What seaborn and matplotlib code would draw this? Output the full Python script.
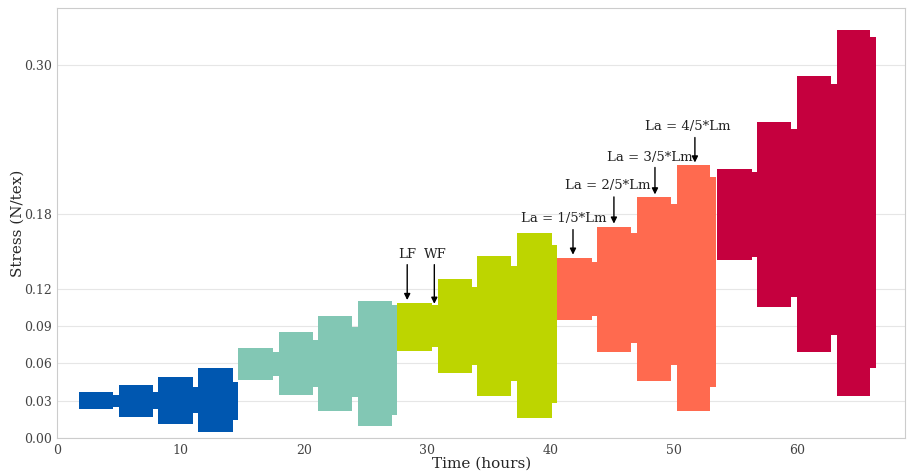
import matplotlib
matplotlib.use("Agg")
import matplotlib.pyplot as plt
from matplotlib.ticker import FormatStrFormatter
import seaborn as sns

# Bloques de carga: bordes en tiempo (h) y tension min/max (N/tex)
blue_edges = [1.8, 4.54, 5.03, 7.79, 8.19, 11.03, 11.44, 14.27, 14.68]
blue_low = [0.0234, 0.025, 0.0169, 0.023, 0.0113, 0.020, 0.0048, 0.0145]
blue_high = [0.0371, 0.0347, 0.0427, 0.037, 0.049, 0.041, 0.0564, 0.045]

teal_edges = [14.68, 17.52, 18.0, 20.76, 21.17, 23.93, 24.41, 27.17, 27.57]
teal_low = [0.0467, 0.050, 0.0347, 0.041, 0.0218, 0.033, 0.0097, 0.0185]
teal_high = [0.0725, 0.0693, 0.0854, 0.079, 0.0983, 0.0895, 0.110, 0.107]

lime_edges = [27.57, 30.41, 30.9, 33.66, 34.06, 36.82, 37.31, 40.15, 40.55]
lime_low = [0.0701, 0.0733, 0.0524, 0.0588, 0.0339, 0.046, 0.0161, 0.0282]
lime_high = [0.1088, 0.107, 0.128, 0.1217, 0.1467, 0.1386, 0.165, 0.1556]

orange_edges = [40.55, 43.39, 43.8, 46.55, 47.04, 49.8, 50.28, 52.96, 53.45]
orange_low = [0.0951, 0.0983, 0.0693, 0.0766, 0.046, 0.0588, 0.0218, 0.041]
orange_high = [0.145, 0.1419, 0.170, 0.165, 0.194, 0.188, 0.220, 0.210]

crimson_edges = [53.53, 56.37, 56.77, 59.53, 60.02, 62.77, 63.26, 65.94, 66.42]
crimson_low = [0.1435, 0.1459, 0.1056, 0.1137, 0.0693, 0.083, 0.0339, 0.0564]
crimson_high = [0.2168, 0.2144, 0.254, 0.249, 0.291, 0.2845, 0.328, 0.3224]

# Anotaciones
note_labels = ["LF", "WF", "La = 1/5*Lm", "La = 2/5*Lm", "La = 3/5*Lm", "La = 4/5*Lm"]
note_text_x = [28.4, 30.7, 41.1, 44.7, 48.1, 51.2]
note_text_y = [0.1475, 0.1475, 0.1765, 0.203, 0.2257, 0.2507]
arrow_x = [28.4, 30.6, 41.85, 45.17, 48.5, 51.74]
arrow_tail = [0.1395, 0.1395, 0.1677, 0.194, 0.2177, 0.2418]
arrow_tip = [0.111, 0.108, 0.1475, 0.1725, 0.196, 0.2217]

y_ticks = [0.0, 0.03, 0.06, 0.09, 0.12, 0.18, 0.30]
x_ticks = [0, 10, 20, 30, 40, 50, 60]

sns.set_style("whitegrid", {"grid.color": "#e6e6e6", "axes.edgecolor": "#cccccc"})
plt.rcParams['font.family'] = ['DejaVu Serif']

fig = plt.figure(figsize=(9.07, 4.73), dpi=100)
ax = fig.add_axes([0.063, 0.074, 0.935, 0.909])

groups = [
    (blue_edges, blue_low, blue_high, "#0057b0"),
    (teal_edges, teal_low, teal_high, "#82c7b4"),
    (lime_edges, lime_low, lime_high, "#bdd500"),
    (orange_edges, orange_low, orange_high, "#ff6a4f"),
    (crimson_edges, crimson_low, crimson_high, "#c5003e"),
]
for edges, low, high, col in groups:
    ax.fill_between(edges, low + [low[-1]], high + [high[-1]],
                    step="post", color=col, linewidth=0, zorder=2)

for lab, tx, ty, axx, t0, t1 in zip(note_labels, note_text_x, note_text_y,
                                    arrow_x, arrow_tail, arrow_tip):
    ax.text(tx, ty, lab, ha="center", va="center", fontsize=9.5, color="#222222")
    ax.annotate("", xy=(axx, t1), xytext=(axx, t0),
                arrowprops=dict(arrowstyle="-|>", color="black", lw=1,
                                mutation_scale=9, shrinkA=0, shrinkB=0), zorder=3)

ax.set_xlim(0, 68.8)
ax.set_ylim(0, 0.346)
ax.set_xticks(x_ticks)
ax.set_yticks(y_ticks)
ax.yaxis.set_major_formatter(FormatStrFormatter("%.2f"))
ax.grid(axis="x", visible=False)
ax.tick_params(labelsize=9, colors="#444444", length=0, pad=4)
ax.set_xlabel("Time (hours)", fontsize=11, labelpad=0)
ax.set_ylabel("Stress (N/tex)", fontsize=11, labelpad=-1)
for s in ax.spines.values():
    s.set_linewidth(0.8)

fig.savefig("out.png", dpi=100)
